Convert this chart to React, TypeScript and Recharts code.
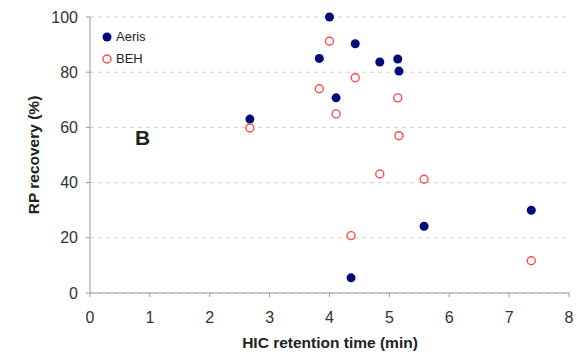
import React from 'react';
import { ScatterChart, Scatter, XAxis, YAxis, CartesianGrid, Legend, Label } from 'recharts';

// HIC retention time (min) vs RP recovery (%)
const aerisTime = [2.67, 4.0, 3.83, 4.43, 4.84, 5.14, 5.16, 4.11, 4.36, 5.58, 7.37];
const aerisRecovery = [63, 100, 85, 90.3, 83.7, 84.8, 80.4, 70.7, 5.5, 24.2, 30];

const behTime = [2.67, 4.0, 3.83, 4.43, 4.11, 5.14, 5.16, 4.84, 5.58, 4.36, 7.37];
const behRecovery = [59.8, 91.2, 74, 78, 64.9, 70.7, 57, 43.1, 41.2, 20.8, 11.7];

const xTicks = [0, 1, 2, 3, 4, 5, 6, 7, 8];
const yTicks = [0, 20, 40, 60, 80, 100];

const aerisData = aerisTime.map((t, i) => ({ time: t, recovery: aerisRecovery[i] }));
const behData = behTime.map((t, i) => ({ time: t, recovery: behRecovery[i] }));

const NAVY = '#000a7a';
const RED = '#ff4a4a';
const FONT = '"Liberation Sans", Arial, sans-serif';

const FilledDot = (props: any) => (
    <circle cx={props.cx} cy={props.cy} r={4.5} fill={NAVY} />
);

const OpenDot = (props: any) => (
    <circle cx={props.cx} cy={props.cy} r={4} fill="#fff" stroke={RED} strokeWidth={1.4} />
);

const LegendBox = () => (
    <div style={{ fontFamily: FONT, fontSize: 13, color: '#222', lineHeight: '22px' }}>
        <div style={{ display: 'flex', alignItems: 'center' }}>
            <svg width={12} height={12} style={{ marginRight: 3 }}>
                <circle cx={6} cy={6} r={4.5} fill={NAVY} />
            </svg>
            Aeris
        </div>
        <div style={{ display: 'flex', alignItems: 'center' }}>
            <svg width={12} height={12} style={{ marginRight: 3 }}>
                <circle cx={6} cy={6} r={4} fill="#fff" stroke={RED} strokeWidth={1.4} />
            </svg>
            BEH
        </div>
    </div>
);

const App: React.FC = () => {
    return (
        <div style={{ position: 'absolute', left: 0, top: 0, width: 577, height: 361, background: '#fff' }}>
            <ScatterChart
                width={577}
                height={361}
                margin={{ top: 17, right: 8, bottom: 18, left: 0 }}
                style={{ fontFamily: FONT }}
            >
                <CartesianGrid horizontal vertical={false} strokeDasharray="4 4" stroke="#d0d0d0" />
                <XAxis
                    type="number"
                    dataKey="time"
                    domain={[0, 8]}
                    ticks={xTicks}
                    interval={0}
                    height={50}
                    stroke="#999"
                    tickSize={4}
                    tickMargin={15}
                    tick={{ fill: '#333', fontSize: 16 }}
                >
                    <Label
                        content={() => (
                            <text x={330} y={348} textAnchor="middle" fontWeight="bold" fontSize={15.5} fill="#222" fontFamily={FONT}>
                                HIC retention time (min)
                            </text>
                        )}
                    />
                </XAxis>
                <YAxis
                    type="number"
                    dataKey="recovery"
                    domain={[0, 100]}
                    ticks={yTicks}
                    interval={0}
                    width={90}
                    stroke="#999"
                    tickSize={4}
                    tickMargin={8}
                    tick={{ fill: '#333', fontSize: 16 }}
                >
                    <Label
                        content={() => (
                            <text
                                x={39}
                                y={155}
                                textAnchor="middle"
                                fontWeight="bold"
                                fontSize={15.5}
                                fill="#222"
                                fontFamily={FONT}
                                transform="rotate(-90 39 155)"
                            >
                                RP recovery (%)
                            </text>
                        )}
                    />
                </YAxis>
                <Legend
                    layout="vertical"
                    align="center"
                    verticalAlign="middle"
                    content={() => <LegendBox />}
                    wrapperStyle={{ left: 101, top: 26, width: 'auto', height: 'auto' }}
                />
                <Scatter name="Aeris" data={aerisData} shape={FilledDot} isAnimationActive={false} />
                <Scatter name="BEH" data={behData} shape={OpenDot} isAnimationActive={false} />
            </ScatterChart>
            <div
                style={{
                    position: 'absolute',
                    left: 135,
                    top: 126,
                    fontFamily: FONT,
                    fontWeight: 'bold',
                    fontSize: 21,
                    color: '#222',
                }}
            >
                B
            </div>
        </div>
    );
};

export default App;
